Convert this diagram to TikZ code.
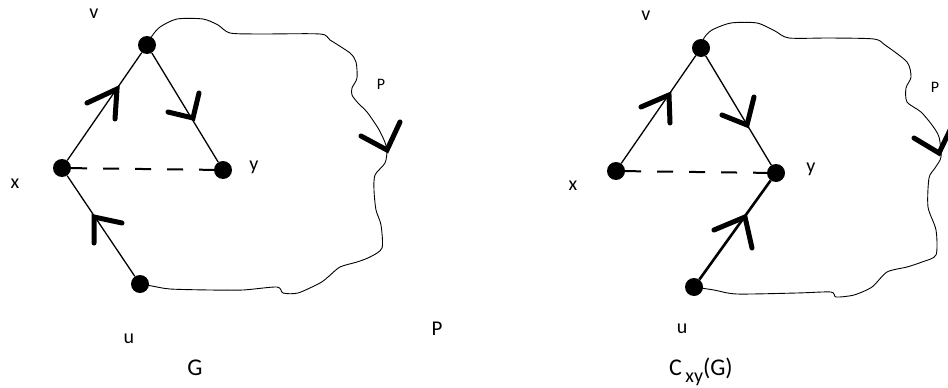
\documentclass[tikz,border=0pt]{standalone}
\usepackage{fontspec}
\setmainfont{Carlito}
\begin{document}
\begin{tikzpicture}[x=1pt,y=-1pt,
  dot/.style={circle,fill=black,inner sep=0pt,minimum size=18pt},
  edge/.style={line width=1.3pt},
  heavyedge/.style={line width=2.6pt},
  chord/.style={line width=2pt,dash pattern=on 16pt off 16pt},
  blob/.style={line width=0.9pt,line join=round},
  tick/.style={line width=5pt,line cap=round,line join=miter},
  lbl/.style={anchor=base,inner sep=0pt,font=\fontsize{20}{22}\selectfont},
  plbl/.style={anchor=base,inner sep=0pt,font=\fontsize{16}{18}\selectfont},
  big/.style={anchor=base,inner sep=0pt,font=\fontsize{24}{26}\selectfont}]
\useasboundingbox (0,0) rectangle (948,388);
\clip (0,0) rectangle (948,388);

% ---------- left graph G ----------
\node[dot] (v1) at (147,45) {};
\node[dot] (x1) at (62,168) {};
\node[dot] (y1) at (223,170) {};
\node[dot] (u1) at (140,284) {};

\draw[blob] plot[smooth,tension=0.45] coordinates {(v1.center) (152,36) (160,27) (177,19) (203,19)
  (218,25) (230,33) (260,34) (320,34) (330,40) (350,53) (356,62) (357,78) (352,88) (352,95)
  (358,103) (367,112) (378,128) (384,140) (387,150) (385,163) (375,175) (374,190) (376,210)
  (381,225) (382,248) (370,257) (357,262) (340,267) (328,277) (320,283) (298,293) (283,293)
  (277,287) (243,290) (210,290) (170,289) (152,286) (u1.center)};

\draw[edge] (x1) -- (v1);
\draw[edge] (v1) -- (y1);
\draw[edge] (u1) -- (x1);
\draw[chord] (x1) -- (y1);

\draw[tick] (87,103) -- (117,89) -- (115,119);
\draw[tick] (168,112) -- (193,118) -- (199,93);
\draw[tick] (122,223) -- (94,217) -- (94,243);
\draw[tick] (361,136) -- (387,150) -- (400,122);

\node[lbl] (lv1) at (94,19) {v};
\node[lbl] (lx1) at (15,188) {x};
\node[lbl] (ly1) at (254,170) {y};
\node[lbl] (lu1) at (129,343) {u};
\node[plbl] (lp1) at (381,89) {P};
\node[lbl,font=\fontsize{21}{23}\selectfont] (lp2) at (437,335) {P};
\node[big] (lg) at (195,375) {G};

% ---------- right graph C_xy(G) ----------
\node[dot] (v2) at (701,48) {};
\node[dot] (x2) at (616,171) {};
\node[dot] (y2) at (776,173) {};
\node[dot] (u2) at (694,287) {};

\draw[blob] plot[smooth,tension=0.45] coordinates {(v2.center) (704,38) (712,30) (731,23) (757,23)
  (775,31) (789,38) (830,38) (874,39) (885,45) (907,62) (911,77) (906,88) (907,102) (921,112)
  (932,125) (939,137) (941,157) (935,168) (929,178) (928,207) (936,230) (936,255) (922,262)
  (907,267) (887,272) (872,287) (854,295) (836,297) (831,292) (797,293) (737,294) (714,290)
  (u2.center)};

\draw[edge] (x2) -- (v2);
\draw[edge] (v2) -- (y2);
\draw[heavyedge] (u2) -- (y2);
\draw[chord] (x2) -- (y2);

\draw[tick] (641,107) -- (669,95) -- (670,123);
\draw[tick] (722,115) -- (747,125) -- (754,97);
\draw[tick] (714,230) -- (745,217) -- (752,248);
\draw[tick] (914,138) -- (939,153) -- (953,124);

\node[lbl] (lv2) at (646,20) {v};
\node[lbl] (lx2) at (573,190) {x};
\node[lbl] (ly2) at (811,172) {y};
\node[lbl] (lu2) at (682,333) {u};
\node[plbl] (lp3) at (935,92) {P};
\node[big] (lc) at (701,375) {C\raisebox{-7pt}{\fontsize{20}{22}\selectfont\,xy}(G)};
\end{tikzpicture}
\end{document}
